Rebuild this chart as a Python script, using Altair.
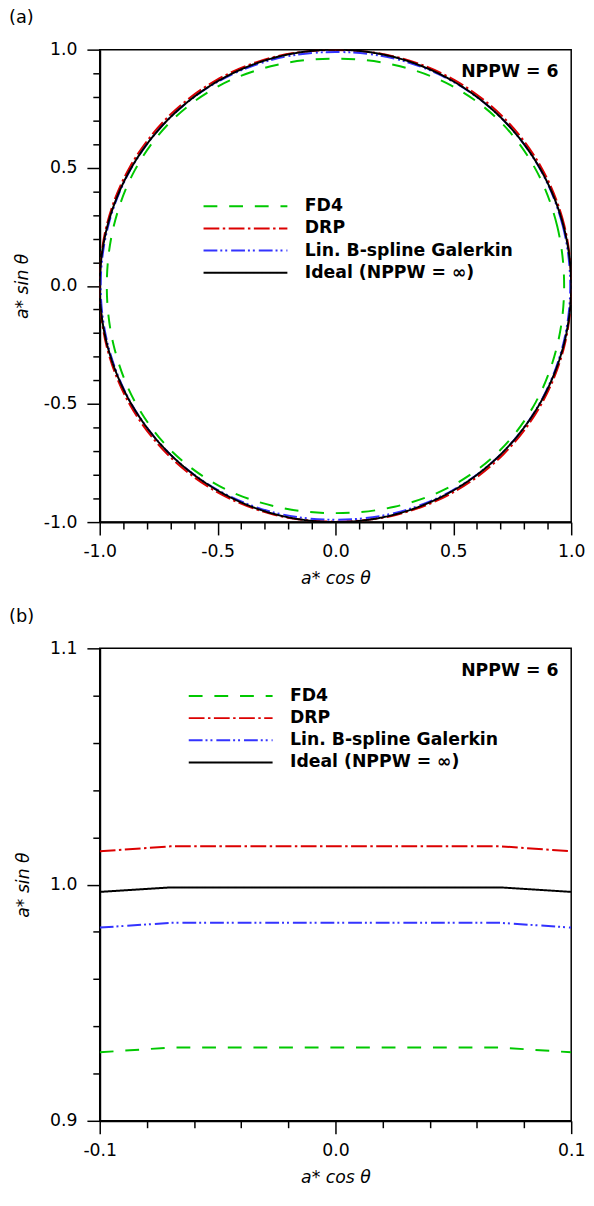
import altair as alt
import pandas as pd
import numpy as np

# ---------------- data ----------------
series_names = ["FD4", "DRP", "Lin. B-spline Galerkin", "Ideal (NPPW = ∞)"]
series_colors = ["#00c800", "#dc0000", "#3333ff", "#000000"]
series_dashes = [[14, 12], [16, 3.5, 2.5, 3.5], [14, 3, 2, 3, 2, 4], [1, 0]]

# panel (a): normalised radius read at each propagation angle (degrees)
angles_a = [0, 15, 30, 45, 60, 75, 90, 105, 120, 135, 150, 165,
            180, 195, 210, 225, 240, 255, 270, 285, 300, 315, 330, 345]
r_fd4 = [0.970, 0.974, 0.982, 0.986, 0.980, 0.968, 0.962, 0.968, 0.980, 0.986, 0.982, 0.974,
         0.970, 0.974, 0.982, 0.986, 0.980, 0.968, 0.962, 0.968, 0.980, 0.986, 0.982, 0.974]
r_drp = [1.000, 1.004, 1.007, 1.008, 1.007, 1.003, 0.998, 1.003, 1.007, 1.008, 1.007, 1.004,
         1.000, 1.004, 1.007, 1.008, 1.007, 1.003, 0.998, 1.003, 1.007, 1.008, 1.007, 1.004]
r_gal = [0.996, 0.997, 0.999, 1.000, 0.998, 0.994, 0.990, 0.994, 0.998, 1.000, 0.999, 0.997,
         0.996, 0.997, 0.999, 1.000, 0.998, 0.994, 0.990, 0.994, 0.998, 1.000, 0.999, 0.997]
r_ideal = [1.0] * 24

# panel (b): zoom near the top of the curves
x_b = [-0.1, -0.07, 0.0, 0.07, 0.1]
y_b_fd4 = [0.929, 0.931, 0.931, 0.931, 0.929]
y_b_drp = [1.0141, 1.0162, 1.0162, 1.0162, 1.0141]
y_b_gal = [0.9818, 0.9838, 0.9838, 0.9838, 0.9818]
y_b_ideal = [0.9969, 0.9988, 0.9988, 0.9988, 0.9969]

ticks_a = [-1.0, -0.9, -0.8, -0.7, -0.6, -0.5, -0.4, -0.3, -0.2, -0.1, 0.0,
           0.1, 0.2, 0.3, 0.4, 0.5, 0.6, 0.7, 0.8, 0.9, 1.0]
ticks_bx = [-0.1, -0.08, -0.06, -0.04, -0.02, 0.0, 0.02, 0.04, 0.06, 0.08, 0.1]
ticks_by = [0.9, 0.92, 0.94, 0.96, 0.98, 1.0, 1.02, 1.04, 1.06, 1.08, 1.1]

# ---------------- tables ----------------
rows = []
for name, radii in zip(series_names, [r_fd4, r_drp, r_gal, r_ideal]):
    for i, (ang, r) in enumerate(zip(angles_a, radii)):
        t = np.deg2rad(ang)
        rows.append({"series": name, "order": i, "x": r * np.cos(t), "y": r * np.sin(t)})
df_a = pd.DataFrame(rows)

rows = []
for name, ys in zip(series_names, [y_b_fd4, y_b_drp, y_b_gal, y_b_ideal]):
    for i, (xv, yv) in enumerate(zip(x_b, ys)):
        rows.append({"series": name, "order": i, "x": xv, "y": yv})
df_b = pd.DataFrame(rows)

one = pd.DataFrame({"k": [0]})

FONT = "DejaVu Sans"
FS = 17.5


def make_axis(values, step, title, lab_pad, title_pad):
    test = f"abs(datum.value/{step} - round(datum.value/{step})) < 0.001"
    return alt.Axis(
        values=values,
        title=title,
        grid=False,
        tickSize={"condition": {"test": test, "value": 13}, "value": 7},
        labelExpr=f"({test}) ? ((datum.value < -0.0001 ? '-' : '') + format(abs(datum.value), '.1f')) : ''",
        labelFlush=False,
        labelOverlap=False,
        labelPadding=lab_pad,
        titlePadding=title_pad,
    )


def legend(lx, ly):
    # horizontal key line drawn as a custom path so that the row height stays small
    return alt.Legend(
        title=None, orient="none", legendX=lx, legendY=ly,
        symbolType="M-8,0H8", symbolSize=112.9, symbolStrokeWidth=2,
        labelFont=FONT, labelFontSize=FS, labelFontWeight="bold", labelColor="black",
        labelLimit=0, rowPadding=3.5, labelOffset=51.4,
    )


def panel(df, xdom, ydom, xticks, yticks, step, tag, lx, ly, interp, ytp):
    lg = legend(lx, ly)
    lines = alt.Chart(df).mark_line(strokeWidth=2, clip=True, interpolate=interp).encode(
        x=alt.X("x:Q", scale=alt.Scale(domain=xdom, nice=False, zero=False),
                axis=make_axis(xticks, step, "a* cos θ", 8, 10)),
        y=alt.Y("y:Q", scale=alt.Scale(domain=ydom, nice=False, zero=False),
                axis=make_axis(yticks, step, "a* sin θ", 10, ytp)),
        color=alt.Color("series:N", scale=alt.Scale(domain=series_names, range=series_colors), legend=lg),
        strokeDash=alt.StrokeDash("series:N", scale=alt.Scale(domain=series_names, range=series_dashes), legend=lg),
        order="order:Q",
        detail="series:N",
    )
    nppw = alt.Chart(one).mark_text(
        text="NPPW = 6", font=FONT, fontSize=FS, fontWeight="bold", align="right", baseline="middle", color="black"
    ).encode(x=alt.value(465), y=alt.value(23))
    label = alt.Chart(one).mark_text(
        text=tag, font=FONT, fontSize=18, align="left", baseline="middle", color="black"
    ).encode(x=alt.value(-92), y=alt.value(-32))
    return alt.layer(lines, nppw, label).properties(width=478, height=479)


pa = panel(df_a, [-1, 1], [-1, 1], ticks_a, ticks_a, 0.5, "(a)", 139, 150, "cardinal-closed", 12)
pb = panel(df_b, [-0.1, 0.1], [0.9, 1.1], ticks_bx, ticks_by, 0.1, "(b)", 124, 39.5, "linear", 17)

chart = alt.vconcat(pa, pb, spacing=19).resolve_scale(
    color="independent", strokeDash="independent"
).properties(padding={"left": 0, "top": -8, "right": 0, "bottom": 0}).configure_view(
    stroke="black", strokeWidth=1.5
).configure_axis(
    domainColor="black", domainWidth=2, tickColor="black", tickWidth=1.5,
    labelFont=FONT, labelFontSize=FS, labelColor="black",
    titleFont=FONT, titleFontSize=FS, titleFontStyle="italic", titleFontWeight="normal",
    titleColor="black",
)

chart.save("out.html", embed_options={"renderer": "svg", "actions": False})
